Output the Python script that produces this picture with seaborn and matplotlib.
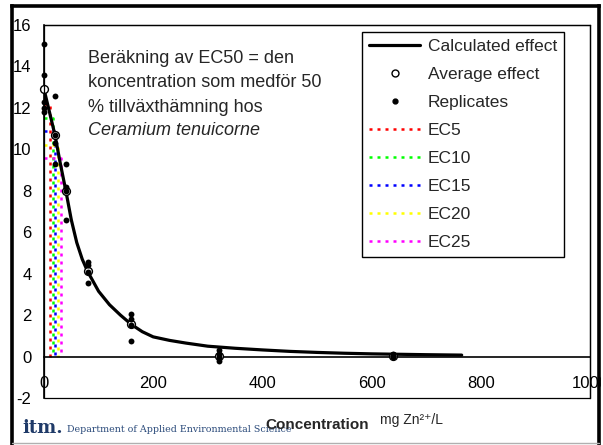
import pandas as pd
import seaborn as sns
import matplotlib.pyplot as plt
from matplotlib.lines import Line2D
from matplotlib.patches import Rectangle

# ==========================================
# DATA
# ==========================================
# averages per tested concentration
conc_levels = [0, 20, 40, 80, 160, 320, 640]
avg_effect = [12.9, 10.7, 8.0, 4.15, 1.55, 0.05, 0.05]

# single replicates
rep_conc = [0, 0, 0, 0, 0,
            20, 20, 20, 20,
            40, 40, 40, 40,
            80, 80, 80, 80,
            160, 160, 160, 160,
            320, 320, 320, 320,
            640, 640, 640, 640]
rep_effect = [15.1, 13.6, 12.3, 12.0, 11.8,
              12.55, 10.7, 10.3, 9.3,
              9.3, 8.2, 8.0, 6.6,
              4.55, 4.4, 4.1, 3.55,
              2.05, 1.8, 1.5, 0.75,
              0.3, 0.1, 0.0, -0.2,
              0.1, 0.05, 0.05, 0.0]

# fitted (calculated) effect curve
curve_conc = [0, 10, 20, 30, 40, 50, 60, 70, 80, 100, 120, 140, 160, 180, 200,
              230, 260, 300, 350, 400, 450, 500, 550, 600, 650, 700, 765]
curve_effect = [12.9, 11.8, 10.7, 9.3, 8.0, 6.6, 5.5, 4.7, 4.1, 3.15, 2.5, 2.0,
                1.55, 1.2, 0.95, 0.78, 0.65, 0.5, 0.4, 0.32, 0.25, 0.2, 0.16,
                0.13, 0.11, 0.09, 0.07]

# EC levels
ec_labels = ["EC5", "EC10", "EC15", "EC20", "EC25"]
ec_conc = [11, 16, 21, 26, 31]
ec_effect = [12.2, 11.5, 10.9, 10.2, 9.6]
ec_colors = ["#FF0000", "#00FF00", "#0000FF", "#FFFF00", "#FF00FF"]

x_ticks = [0, 200, 400, 600, 800, 1000]
y_ticks = [-2, 0, 2, 4, 6, 8, 10, 12, 14, 16]

# ==========================================
# PLOT
# ==========================================
sns.set_style("white")
plt.rcParams['font.family'] = ['Liberation Sans', 'DejaVu Sans']
plt.rcParams['axes.unicode_minus'] = False

W, H = 603, 445
fig = plt.figure(figsize=(W / 100, H / 100), dpi=100)
ax = fig.add_axes([44 / W, 1 - 398 / H, 546 / W, 373 / H])

ec_style = (0, (1.2, 2.0))
for lab, cx, cy, col in zip(ec_labels, ec_conc, ec_effect, ec_colors):
    ax.plot([0, cx, cx], [cy, cy, 0], color=col, lw=1.8, ls=ec_style, zorder=2)

sns.lineplot(x=curve_conc, y=curve_effect, ax=ax, color="black", lw=2.3,
             estimator=None, sort=False, zorder=3)
sns.scatterplot(x=conc_levels, y=avg_effect, ax=ax, marker="o", s=32,
                facecolor="white", edgecolor="black", linewidth=1,
                zorder=4, clip_on=False)
sns.scatterplot(x=rep_conc, y=rep_effect, ax=ax, color="black", s=18,
                linewidth=0, zorder=5, clip_on=False)

ax.set_xlim(0, 1000)
ax.set_ylim(-2, 16)
ax.set_xticks(x_ticks)
ax.set_yticks(y_ticks)
ax.set_xlabel("")
ax.set_ylabel("")

# axes cross at zero, plot area framed
ax.spines['bottom'].set_position(('data', 0))
for s in ['bottom', 'left']:
    ax.spines[s].set_linewidth(1.2)
    ax.spines[s].set_color("black")
for s in ['top', 'right']:
    ax.spines[s].set_linewidth(0.9)
    ax.spines[s].set_color("black")
ax.add_patch(Rectangle((0, 0), 1, 1, transform=ax.transAxes, fill=False,
                       lw=0.9, edgecolor="black", clip_on=False, zorder=6))

ax.tick_params(axis='both', direction='inout', length=8, width=1,
               color="black", labelsize=12, labelcolor="black")
ax.tick_params(axis='x', pad=10)
ax.tick_params(axis='y', pad=5)

handles = [
    Line2D([], [], color="black", lw=2.3),
    Line2D([], [], marker="o", ls="none", mfc="white", mec="black", ms=5, mew=1),
    Line2D([], [], marker="o", ls="none", color="black", ms=3.5),
]
handles += [Line2D([], [], color=c, lw=1.8, ls=ec_style) for c in ec_colors]
labels = ["Calculated effect", "Average effect", "Replicates"] + ec_labels
leg = ax.legend(handles, labels, loc="upper right", bbox_to_anchor=(0.952, 0.981),
                frameon=True, fancybox=False, edgecolor="black", framealpha=1,
                fontsize=12.5, handlelength=2.9, handletextpad=0.45,
                labelspacing=0.74, borderpad=0.4, borderaxespad=0)
leg.get_frame().set_linewidth(1)
leg.set_zorder(7)

# description text
note_lines = ["Beräkning av EC50 = den", "koncentration som medför 50",
              "% tillväxthämning hos"]
note_y = [0.909, 0.845, 0.780]
for txt, yy in zip(note_lines, note_y):
    ax.text(0.0806, yy, txt, transform=ax.transAxes, fontsize=13, va="center")
ax.text(0.0806, 0.716, "Ceramium tenuicorne", transform=ax.transAxes,
        fontsize=13, va="center", style="italic")

# footer
fig.text(22 / W, 1 - 428 / H, "itm.", family="DejaVu Serif", fontweight="bold",
         fontsize=13, color="#1f3a68", va="center")
fig.text(67 / W, 1 - 429 / H, "Department of Applied Environmental Science",
         family="DejaVu Serif", fontsize=6.8, color="#2a4a7a", va="center")
fig.text(265 / W, 1 - 425 / H, "Concentration", fontweight="bold", fontsize=11,
         va="center")
fig.text(380 / W, 1 - 420 / H, "mg Zn²⁺/L", fontsize=10, va="center",
         family=['Liberation Sans', 'DejaVu Sans'])

# outer slide frame
fig.add_artist(Rectangle((601 / W, 0), 2 / W, 1, transform=fig.transFigure,
                         color="white", zorder=20))
x0, x1 = 11.5 / W, 599 / W
y0, y1 = 1 - 443 / H, 1 - 5.5 / H
for xs, ys in [([x0, x0], [0, y1]), ([x0, x1], [y1, y1]), ([x1, x1], [0, y1])]:
    fig.add_artist(Line2D(xs, ys, transform=fig.transFigure, color="black",
                          lw=2.6, zorder=21, solid_capstyle="projecting"))
fig.add_artist(Line2D([x0, x1], [y0, y0], transform=fig.transFigure,
                      color="#b0b0b0", lw=1, zorder=21))

fig.savefig("out.png", dpi=100)
